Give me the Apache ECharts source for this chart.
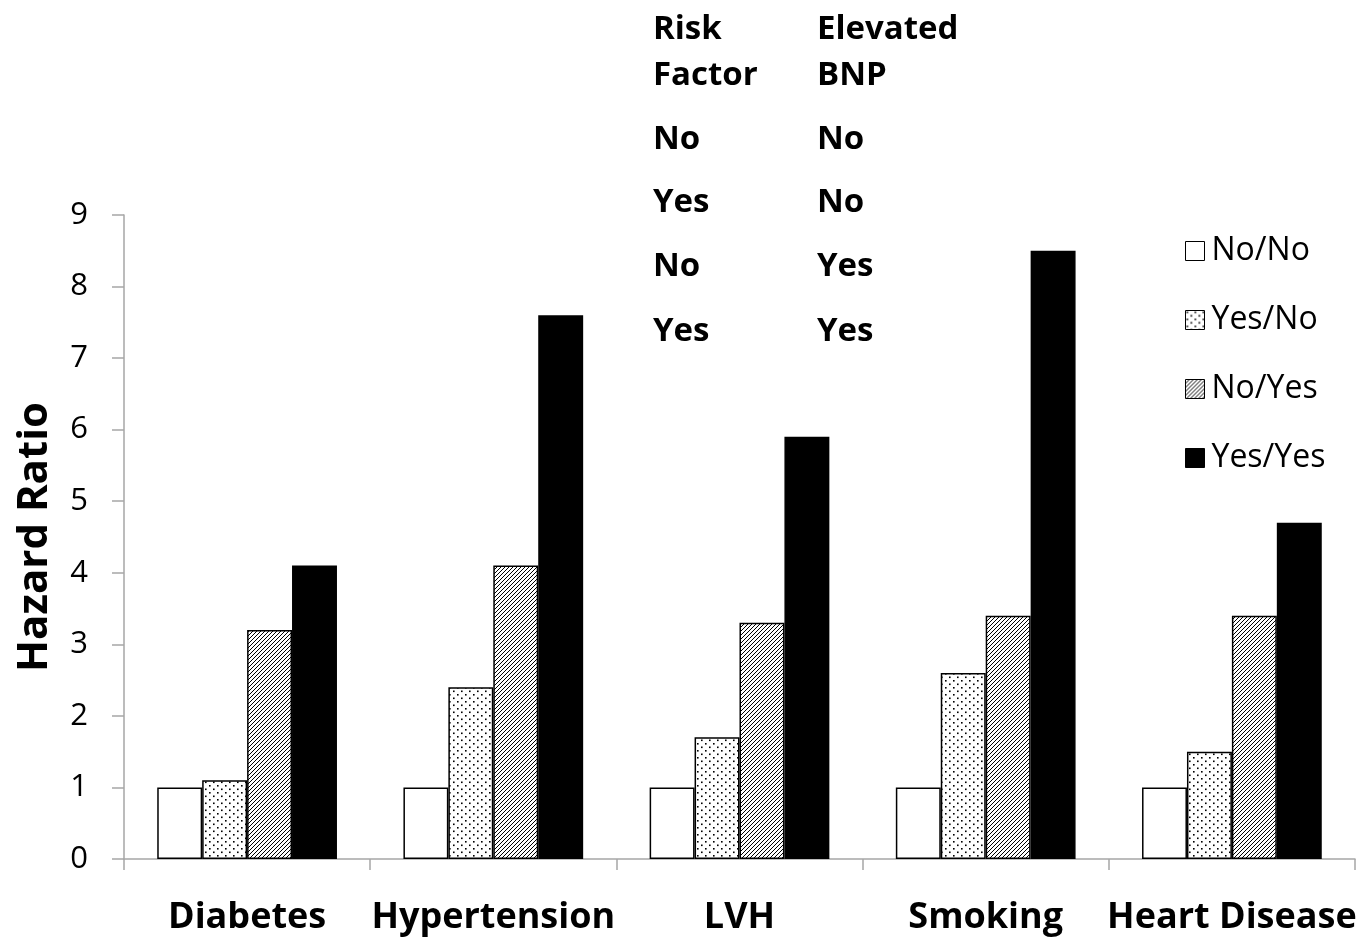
<!DOCTYPE html>
<html>
<head>
<meta charset="utf-8">
<script src="https://cdn.jsdelivr.net/npm/echarts@6/dist/echarts.min.js"></script>
<style>
  html, body { margin: 0; padding: 0; background: #fff; }
  #chart { width: 1372px; height: 941px; }
</style>
</head>
<body>
<div id="chart"></div>
<script>
// Hazard ratios by risk factor, split by risk-factor / elevated-BNP status
const categories = ['Diabetes', 'Hypertension', 'LVH', 'Smoking', 'Heart Disease'];
const seriesNames = ['No/No', 'Yes/No', 'No/Yes', 'Yes/Yes'];
const noNo   = [1, 1, 1, 1, 1];
const yesNo  = [1.1, 2.4, 1.7, 2.6, 1.5];
const noYes  = [3.2, 4.1, 3.3, 3.4, 3.4];
const yesYes = [4.1, 7.6, 5.9, 8.5, 4.7];
const yTicks = [0, 1, 2, 3, 4, 5, 6, 7, 8, 9];

// Key table printed above the plot
const tableHeader = [['Risk', 'Elevated'], ['Factor', 'BNP']];
const tableRows = [['No', 'No'], ['Yes', 'No'], ['No', 'Yes'], ['Yes', 'Yes']];

const FONT = '"Open Sans", "Noto Sans", sans-serif';

function dotPattern() {
  const c = document.createElement('canvas');
  c.width = 8; c.height = 7;
  const g = c.getContext('2d');
  g.fillStyle = '#fff'; g.fillRect(0, 0, 8, 7);
  g.fillStyle = '#000';
  g.fillRect(1, 1, 1.6, 1.6);
  g.fillRect(5, 4.5, 1.6, 1.6);
  return c;
}
function hatchPattern() {
  const c = document.createElement('canvas');
  c.width = 4; c.height = 4;
  const g = c.getContext('2d');
  g.fillStyle = '#fff'; g.fillRect(0, 0, 4, 4);
  g.strokeStyle = '#000'; g.lineWidth = 1;
  g.beginPath();
  g.moveTo(-1, 5); g.lineTo(5, -1);
  g.moveTo(-1, 1); g.lineTo(1, -1);
  g.moveTo(3, 5); g.lineTo(5, 3);
  g.stroke();
  return c;
}

const fills = [
  '#ffffff',
  { image: dotPattern(), repeat: 'repeat' },
  { image: hatchPattern(), repeat: 'repeat' },
  '#000000'
];
const values = [noNo, yesNo, noYes, yesYes];

const chart = echarts.init(document.getElementById('chart'), null, { renderer: 'canvas' });

const graphics = [];
const colX = [653, 817];
const headerY = [30, 76];
const rowY = [140, 203, 267, 332];
function cell(t, x, y) {
  return {
    type: 'text', x: x, y: y,
    style: { text: t, font: 'bold 33px ' + FONT, fill: '#000', verticalAlign: 'middle' }
  };
}
tableHeader.forEach((row, r) => row.forEach((t, c) => graphics.push(cell(t, colX[c], headerY[r]))));
tableRows.forEach((row, r) => row.forEach((t, c) => graphics.push(cell(t, colX[c], rowY[r]))));

chart.setOption({
  animation: false,
  backgroundColor: '#fff',
  textStyle: { fontFamily: FONT },
  grid: { left: 124, right: 17, top: 215, bottom: 82, containLabel: false, outerBoundsMode: 'none' },
  legend: {
    data: seriesNames,
    orient: 'vertical',
    left: 1180, top: 230,
    itemWidth: 19, itemHeight: 19,
    itemGap: 37,
    icon: 'rect',
    textStyle: { fontSize: 32, lineHeight: 32, color: '#000', padding: [0, 0, 0, 2] },
    itemStyle: { borderColor: '#000', borderWidth: 1 }
  },
  graphic: graphics,
  xAxis: {
    type: 'category',
    data: categories,
    axisLine: { lineStyle: { color: '#a6a6a6', width: 1.5 } },
    axisTick: { show: true, length: 11, lineStyle: { color: '#a6a6a6', width: 1.5 } },
    axisLabel: { interval: 0, fontSize: 36, fontWeight: 'bold', color: '#000', margin: 41 }
  },
  yAxis: {
    type: 'value',
    min: yTicks[0], max: yTicks[yTicks.length - 1], interval: 1,
    name: 'Hazard Ratio',
    nameLocation: 'middle',
    nameGap: 68,
    nameTextStyle: { fontSize: 42, fontWeight: 'bold', color: '#000' },
    axisLine: { show: true, lineStyle: { color: '#a6a6a6', width: 1.5 } },
    axisTick: { show: true, length: 12, lineStyle: { color: '#a6a6a6', width: 1.5 } },
    splitLine: { show: false },
    axisLabel: { fontSize: 31, color: '#000', margin: 36 }
  },
  series: seriesNames.map((name, i) => ({
    name: name,
    type: 'bar',
    data: values[i],
    barGap: '0%',
    barCategoryGap: '27%',
    itemStyle: { color: fills[i], borderColor: '#000', borderWidth: 1.5 }
  }))
});
</script>
</body>
</html>
